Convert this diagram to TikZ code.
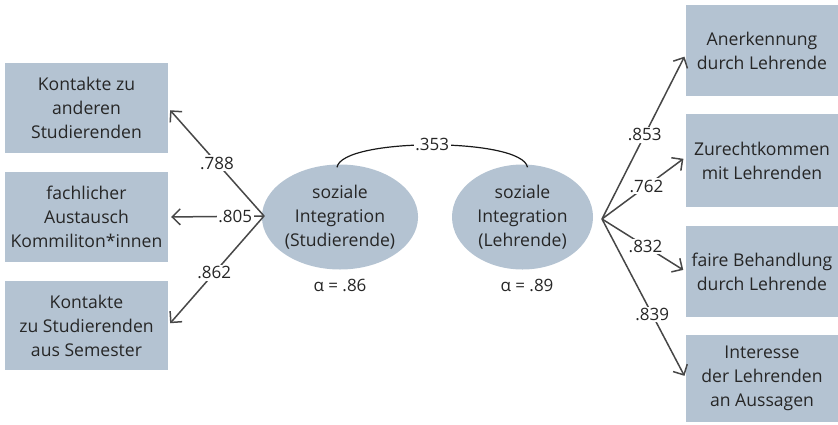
\documentclass[tikz,border=0pt]{standalone}
\usepackage{fontspec}
\setmainfont{Open Sans}
\usetikzlibrary{shapes.geometric,arrows.meta}
\definecolor{boxc}{HTML}{B4C3D2}
\definecolor{arr}{HTML}{474747}
\begin{document}
\begin{tikzpicture}[x=1pt,y=-1pt,
  every node/.style={font=\fontsize{17.6}{24}\selectfont, text=black!85},
  ind/.style={fill=boxc, draw=none, minimum width=163pt, align=center, inner sep=0pt},
  lat/.style={ellipse, fill=boxc, draw=none, inner sep=0pt, align=center},
  lbl/.style={fill=white, inner sep=1.5pt, font=\fontsize{17}{20}\selectfont},
  link/.style={draw=arr, line width=1.5pt, -{Straight Barb[length=8pt,width=16pt,line width=1.5pt]}, shorten >=3pt}
]
\useasboundingbox (0,0) rectangle (838,424);
% left indicators
\node[ind, minimum height=90pt] (l1) at (86.5,108) {Kontakte zu\\anderen\\Studierenden};
\node[ind, minimum height=90pt] (l2) at (86.5,217) {fachlicher\\Austausch\\Kommiliton*innen};
\node[ind, minimum height=89pt] (l3) at (86.5,325.5) {Kontakte\\zu Studierenden\\aus Semester};
% right indicators
\node[ind, minimum width=152pt, minimum height=91pt] (r1) at (762,50.5) {Anerkennung\\durch Lehrende};
\node[ind, minimum width=152pt, minimum height=93pt] (r2) at (762,160.5) {Zurechtkommen\\mit Lehrenden};
\node[ind, minimum width=152pt, minimum height=91pt] (r3) at (762,271.5) {faire Behandlung\\durch Lehrende};
\node[ind, minimum width=152pt, minimum height=87pt] (r4) at (762,378.5) {Interesse\\der Lehrenden\\an Aussagen};
% latent
\node[lat, minimum width=148pt, minimum height=105pt] (e1) at (340,217) {soziale\\Integration\\(Studierende)};
\node[lat, minimum width=141pt, minimum height=105pt] (e2) at (522.5,217) {soziale\\Integration\\(Lehrende)};
\node[font=\fontsize{17}{20}\selectfont] (a1) at (340,285) {α = .86};
\node[font=\fontsize{17}{20}\selectfont] (a2) at (527,285) {α = .89};
% source points
\coordinate (sl) at (264,216);
\coordinate (sr) at (602,219);
% left arrows
\draw[link] (sl) -- (l1.east |- 0,108) node[lbl, pos=0.49] {.788};
\draw[link] (sl) -- (l2.east) node[lbl, pos=0.3] {.805};
\draw[link] (sl) -- (l3.east) node[lbl, pos=0.52] {.862};
% right arrows
\draw[link] (sr) -- ([yshift=-3.5pt]r1.west) node[lbl, pos=0.51] {.853};
\draw[link] (sr) -- ([yshift=3.5pt]r2.west) node[lbl, pos=0.53] {.762};
\draw[link] (sr) -- (r3.west) node[lbl, pos=0.52] {.832};
\draw[link] (sr) -- (r4.west) node[lbl, pos=0.6] {.839};
% correlation
\draw[line width=1.2pt, draw=black!90] ([xshift=-3pt,yshift=-3pt]e1.north) .. controls +(5,-30) and +(-5,-30) .. ([xshift=5pt,yshift=-3pt]e2.north) node[lbl, midway] {.353};
\end{tikzpicture}
\end{document}
